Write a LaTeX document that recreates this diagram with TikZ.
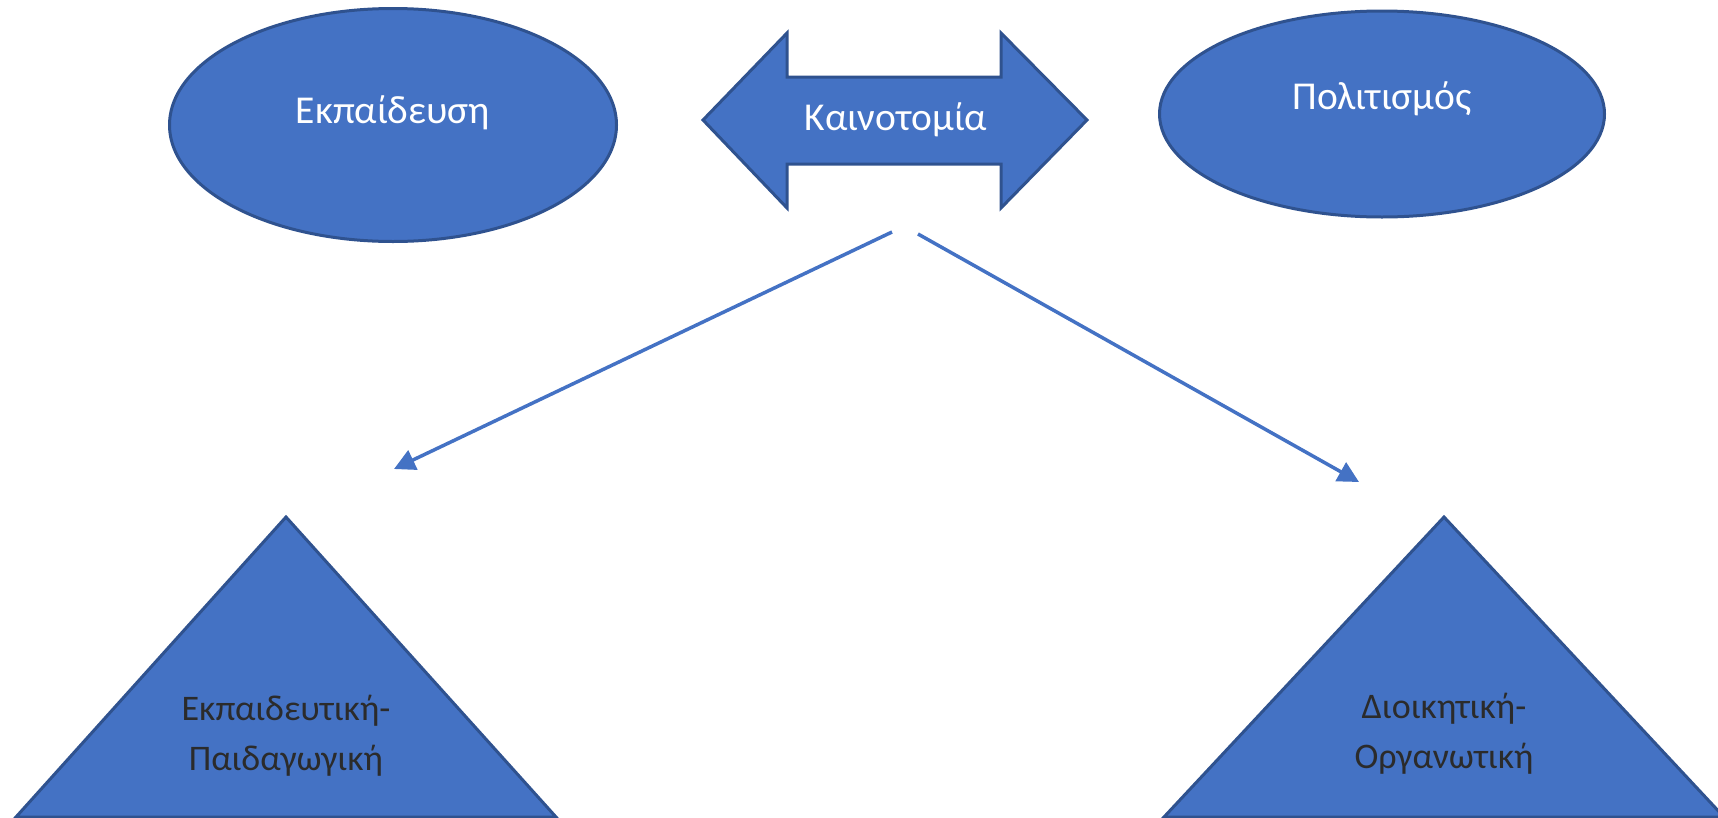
\documentclass[tikz,border=0pt]{standalone}
\usepackage{fontspec}
\setmainfont{Carlito}
\usetikzlibrary{shapes.geometric,arrows.meta,positioning}
\definecolor{fillblue}{HTML}{4472C4}
\definecolor{edgeblue}{HTML}{2F528F}
\definecolor{darktext}{HTML}{2B2B2B}

\begin{document}
\begin{tikzpicture}[x=1pt,y=-1pt,
        shapebox/.style={draw=edgeblue,fill=fillblue,line width=3pt,line join=miter},
        oval/.style={shapebox,ellipse,inner sep=0pt},
        whitetext/.style={text=white,font=\fontsize{39.5}{50}\selectfont,inner sep=0pt},
        darklabel/.style={text=darktext,font=\fontsize{36}{50}\selectfont,align=center,inner sep=0pt},
        link/.style={draw=fillblue,line width=3.5pt,-{Triangle[length=21pt,width=21pt]}}]
   \useasboundingbox (0,0) rectangle (1718,817);

   % top row
   \node (edu) [oval,minimum width=447pt,minimum height=233pt] at (393,125) {};
   \node (culture) [oval,minimum width=445pt,minimum height=206pt] at (1382,114) {};
   \draw[shapebox] (703,120) -- (787,33) -- (787,77) -- (1001,77) -- (1001,33)
      -- (1087,120) -- (1001,208) -- (1001,164) -- (787,164) -- (787,208) -- cycle;

   \node (edutext) [whitetext] at (393,113) {Εκπαίδευση};
   \node (culturetext) [whitetext] at (1382,99) {Πολιτισμός};
   \node (innov) [whitetext] at (896,120) {Καινοτομία};

   % bottom row
   \draw[shapebox] (286,517) -- (16,817) -- (556,817) -- cycle;
   \draw[shapebox] (1444,517) -- (1164,817) -- (1724,817) -- cycle;

   \node (eduped) [darklabel] at (286,736) {Εκπαιδευτική-\\Παιδαγωγική};
   \node (admin) [darklabel] at (1444,734) {Διοικητική-\\Οργανωτική};

   % arrows
   \coordinate (startL) at (892,232);
   \coordinate (startR) at (918,234);
   \coordinate (endL) at (394,469);
   \coordinate (endR) at (1359,482);
   \draw[link] (startL) -- (endL);
   \draw[link] (startR) -- (endR);

\end{tikzpicture}
\end{document}
